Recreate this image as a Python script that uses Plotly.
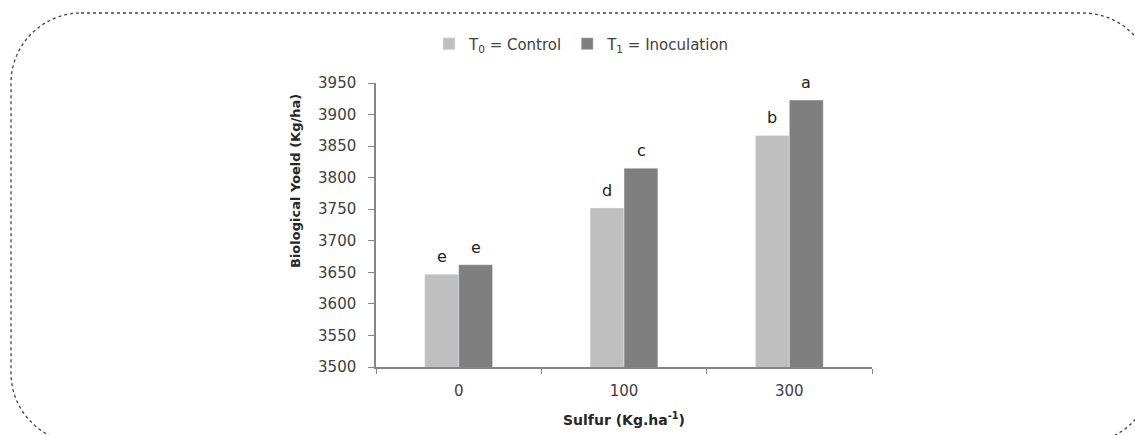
import plotly.graph_objects as go

categories = ["0", "100", "300"]
control = [3647, 3752, 3867]
inoculation = [3662, 3815, 3923]
control_letters = ["e", "d", "b"]
inoc_letters = ["e", "c", "a"]
y_ticks = [3500, 3550, 3600, 3650, 3700, 3750, 3800, 3850, 3900, 3950]

W, H = 1135, 435
L, R, T, B = 376, 263, 83, 68
PW, PH = W - L - R, H - T - B

def px(x):
    return (x - L) / PW

def py(y):
    return (H - B - y) / PH

FONT = "DejaVu Sans, sans-serif"

fig = go.Figure()
fig.add_trace(go.Bar(
    x=categories, y=control, name="T<sub>0</sub> = Control",
    marker=dict(color="#bfbfbf"),
))
fig.add_trace(go.Bar(
    x=categories, y=inoculation, name="T<sub>1</sub> = Inoculation",
    marker=dict(color="#7f7f7f"),
))

# significance letters above bars (x given as category index)
for i, (v, lab) in enumerate(zip(control, control_letters)):
    fig.add_annotation(x=i, y=v, text=lab, showarrow=False, xshift=-17, yshift=6,
                       yanchor="bottom", font=dict(size=16, color="#222222", family=FONT))
for i, (v, lab) in enumerate(zip(inoculation, inoc_letters)):
    fig.add_annotation(x=i, y=v, text=lab, showarrow=False, xshift=17, yshift=6,
                       yanchor="bottom", font=dict(size=16, color="#222222", family=FONT))

# axis titles
fig.add_annotation(x=px(295), y=py(181), xref="paper", yref="paper", showarrow=False,
                   xanchor="center", yanchor="middle",
                   text="<b>Biological Yoeld (Kg/ha)</b>", textangle=-90,
                   font=dict(size=13, color="#262626", family=FONT))
fig.add_annotation(x=px(624), y=py(419), xref="paper", yref="paper", showarrow=False,
                   xanchor="center", yanchor="middle",
                   text="<b>Sulfur (Kg.ha<sup>-1</sup>)</b>",
                   font=dict(size=14, color="#262626", family=FONT))

# dotted rounded frame
x0, y0, x1, y1, r = 11, 13, 1153, 443, 70
k = 0.45
path = (
    f"M {px(x0 + r)},{py(y0)} L {px(x1 - r)},{py(y0)} "
    f"C {px(x1 - r * k)},{py(y0)} {px(x1)},{py(y0 + r * k)} {px(x1)},{py(y0 + r)} "
    f"L {px(x1)},{py(y1 - r)} "
    f"C {px(x1)},{py(y1 - r * k)} {px(x1 - r * k)},{py(y1)} {px(x1 - r)},{py(y1)} "
    f"L {px(x0 + r)},{py(y1)} "
    f"C {px(x0 + r * k)},{py(y1)} {px(x0)},{py(y1 - r * k)} {px(x0)},{py(y1 - r)} "
    f"L {px(x0)},{py(y0 + r)} "
    f"C {px(x0)},{py(y0 + r * k)} {px(x0 + r * k)},{py(y0)} {px(x0 + r)},{py(y0)} Z"
)
fig.add_shape(type="path", path=path, xref="paper", yref="paper",
              line=dict(color="#444444", width=1.3, dash="dot"), layer="below")

fig.update_layout(
    width=W, height=H,
    margin=dict(l=L, r=R, t=T, b=B, autoexpand=False),
    paper_bgcolor="white", plot_bgcolor="white",
    barmode="group", bargap=0.59, bargroupgap=0,
    font=dict(family=FONT, size=14, color="#404040"),
    legend=dict(orientation="h", x=px(582), y=py(44), xanchor="center", yanchor="middle",
                font=dict(size=15, color="#404040"), itemwidth=30, tracegroupgap=0),
    showlegend=True,
)
fig.update_xaxes(
    type="category", categoryorder="array", categoryarray=categories,
    range=[-0.5, len(categories) - 0.5],
    showline=True, linecolor="#868686", linewidth=1.5,
    ticks="outside", tickson="boundaries", ticklen=5, tickcolor="#868686",
    tickfont=dict(size=15, color="#404040"), ticklabelstandoff=9,
)
fig.update_yaxes(
    range=[3500, 3950], tickvals=y_ticks, showgrid=False, zeroline=False,
    showline=True, linecolor="#868686", linewidth=1.5,
    ticks="outside", ticklen=6, tickcolor="#868686",
    tickfont=dict(size=15, color="#404040"), ticklabelstandoff=9,
)

fig.write_html("out.html", config={"displayModeBar": False},
               post_script="document.body.style.margin='0';document.body.style.overflow='hidden';")
